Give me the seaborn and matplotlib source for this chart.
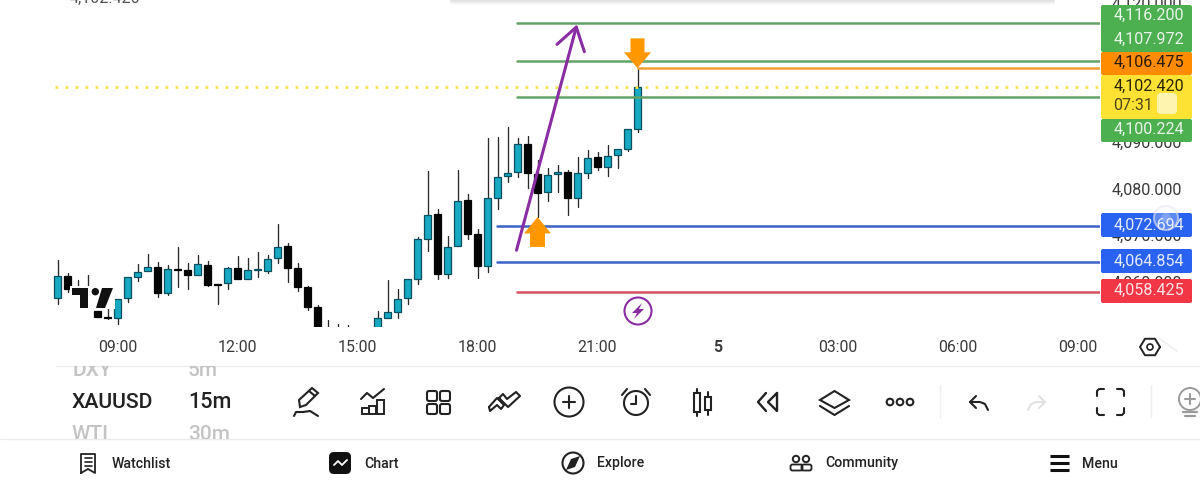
import numpy as np
import pandas as pd
import matplotlib
matplotlib.use("Agg")
import matplotlib.pyplot as plt
import seaborn as sns
from matplotlib.patches import Rectangle, Circle, FancyBboxPatch, Polygon, FancyArrow
from matplotlib.transforms import Bbox, TransformedBbox, ScaledTranslation

# 15 minute candles, slot 0 is the 09:00 bar
slots = list(range(-6, 53))
opens = [4057.07, 4061.93, 4059.22, 4058.85, 4054.34, 4052.99, 4052.78, 4057.07, 4061.58, 4062.87,
         4063.86, 4058.14, 4063.43, 4063.15, 4062.01, 4064.29, 4060.21, 4060.36, 4063.64, 4061.22,
         4063.09, 4062.87, 4065.73, 4068.30, 4063.51, 4059.43, 4055.27, 4050.00, 4049.50, 4049.50,
         4049.50, 4049.50, 4050.00, 4052.91, 4054.19, 4057.07, 4061.15, 4069.81, 4075.11, 4062.29,
         4068.37, 4078.12, 4070.95, 4064.07, 4078.68, 4083.34, 4084.13, 4090.21, 4083.83, 4079.84,
         4083.70, 4084.26, 4078.61, 4084.05, 4087.36, 4085.21, 4087.79, 4089.14, 4093.37]
highs = [4065.30, 4062.57, 4061.00, 4062.08, 4054.34, 4054.92, 4056.99, 4061.58, 4064.44, 4066.59,
         4064.93, 4064.16, 4068.02, 4064.59, 4066.37, 4065.15, 4060.21, 4063.73, 4066.16, 4065.66,
         4066.95, 4066.31, 4073.03, 4068.88, 4064.59, 4059.78, 4055.57, 4052.41, 4051.55, 4051.23,
         4050.40, 4050.40, 4054.41, 4061.00, 4059.00, 4061.15, 4070.30, 4084.48, 4076.19, 4070.45,
         4084.63, 4079.41, 4071.89, 4091.50, 4091.78, 4093.80, 4091.44, 4091.99, 4086.78, 4084.99,
         4085.70, 4084.63, 4087.36, 4088.92, 4088.56, 4089.93, 4089.07, 4093.37, 4106.475]
lows = [4055.85, 4058.49, 4056.28, 4055.20, 4052.99, 4052.56, 4051.49, 4056.21, 4060.85, 4062.87,
        4057.42, 4057.72, 4059.43, 4059.00, 4062.01, 4059.71, 4055.85, 4059.00, 4061.15, 4061.15,
        4061.71, 4062.44, 4064.72, 4060.64, 4058.64, 4054.56, 4050.00, 4049.00, 4049.00, 4049.00,
        4049.00, 4049.00, 4050.00, 4052.78, 4052.78, 4055.85, 4060.14, 4067.30, 4061.28, 4061.37,
        4068.37, 4069.74, 4061.37, 4062.66, 4076.25, 4082.11, 4083.19, 4080.83, 4074.60, 4077.90,
        4079.97, 4074.96, 4076.75, 4082.84, 4084.63, 4083.34, 4085.12, 4088.77, 4092.72]
closes = [4061.93, 4059.13, 4056.71, 4055.63, 4052.99, 4052.78, 4056.99, 4061.58, 4062.78, 4063.86,
          4058.14, 4063.43, 4063.09, 4062.01, 4064.37, 4059.93, 4059.99, 4063.64, 4061.22, 4063.09,
          4063.30, 4065.58, 4068.15, 4063.51, 4059.56, 4055.27, 4050.50, 4049.50, 4049.50, 4049.50,
          4049.50, 4049.50, 4052.84, 4054.06, 4056.92, 4061.15, 4069.74, 4074.96, 4062.29, 4068.15,
          4078.03, 4070.95, 4064.07, 4078.68, 4083.19, 4083.92, 4090.21, 4083.92, 4079.75, 4083.55,
          4084.13, 4078.61, 4083.98, 4087.27, 4085.21, 4087.63, 4089.07, 4093.37, 4102.42]

green_levels = [4116.200, 4107.972, 4100.224]
blue_levels = [4072.694, 4064.854]
red_level = 4058.425
orange_level = 4106.475
last_price = 4102.420

price_ticks = [4060, 4070, 4080, 4090, 4100, 4110, 4120]
time_ticks = [0, 12, 24, 36, 48, 60, 72, 84, 96]
time_labels = ["09:00", "12:00", "15:00", "18:00", "21:00", "5", "03:00", "06:00", "09:00"]

axis_labels = [("4,116.200", "#e8f5e9"), ("4,107.972", "#e8f5e9"), ("4,106.475", "#2b1a05"),
               ("4,100.224", "#e8f5e9"), ("4,072.694", "#e3eaff"), ("4,064.854", "#e3eaff"),
               ("4,058.425", "#fde3e5")]
label_rows = [15, 39, 62, 129, 225, 261, 290]

nav_items = [("Watchlist", 112), ("Chart", 364), ("Explore", 597), ("Community", 825), ("Menu", 1082)]

UP = "#17a8c2"
UP_EDGE = "#0c4f5e"
DOWN = "#050505"
PURPLE = "#8a2da3"
ORANGE = "#ff9800"
INK = "#222222"

sns.set_theme(style="white")
plt.rcParams["font.family"] = ["Roboto", "DejaVu Sans"]

df = pd.DataFrame({"slot": slots, "open": opens, "high": highs, "low": lows, "close": closes})
df["up"] = df["close"] >= df["open"]

fig = plt.figure(figsize=(12, 4.88), dpi=100, facecolor="white")
ax = fig.add_axes([0, 122 / 488, 1100 / 1200, 366 / 488], facecolor="white")

# wicks, one short line per candle
wicks = df.melt(id_vars="slot", value_vars=["low", "high"], value_name="price")
sns.lineplot(data=wicks, x="slot", y="price", units="slot", estimator=None, color="#2a2a2a",
             linewidth=0.95, legend=False, ax=ax, zorder=1.5)

# bodies
body_low = df[["open", "close"]].min(axis=1)
body_h = (df["close"] - df["open"]).abs().clip(lower=0.2)
ax.bar(df["slot"], body_h, bottom=body_low, width=0.7,
       color=[UP if u else DOWN for u in df["up"]],
       edgecolor=[UP_EDGE if u else DOWN for u in df["up"]], linewidth=0.9, zorder=2)

# the pane stops above the time scale, candles are cut there
ax.axhspan(4040, 4050.9, color="white", zorder=2.3, lw=0)

def level(price, start, color):
    line = pd.DataFrame({"slot": [start, 98.25], "price": [price, price]})
    sns.lineplot(data=line, x="slot", y="price", color=color, linewidth=1.8, ax=ax, zorder=3)

for p in green_levels:
    level(p, 39.9, "#62a266")
for p in blue_levels:
    level(p, 37.9, "#3c62c8")
level(red_level, 39.9, "#d5505c")
level(orange_level, 52, "#f0a035")
ax.plot([-6.3, 98.25], [last_price, last_price], color="#f6e44e", lw=2,
        linestyle=(0, (1, 2.6)), zorder=2.8)

# drawings on the chart
ax.annotate("", xy=(45.95, 4115.9), xytext=(39.9, 4067.4), zorder=4,
            arrowprops=dict(arrowstyle="->,head_length=1.3,head_width=0.85", color=PURPLE, lw=2.2,
                            shrinkA=0, shrinkB=0))
ax.add_patch(FancyArrow(42, 4068.1, 0, 6.4, width=1.5, head_width=2.7, head_length=3.5,
                        length_includes_head=True, color=ORANGE, lw=0, zorder=4))
ax.add_patch(FancyArrow(52, 4112.9, 0, -6.4, width=1.4, head_width=2.7, head_length=3.4,
                        length_includes_head=True, color=ORANGE, lw=0, zorder=4))

ax.set_xlim(-11.75, 98.25)
ax.set_ylim(4042.53, 4121.14)
ax.set_axisbelow(False)
ax.set_xticks(time_ticks, time_labels)
ax.set_yticks(price_ticks, [f"{p:,.3f}" for p in price_ticks])
ax.yaxis.tick_right()
ax.tick_params(axis="x", length=0, pad=-18.5, labelsize=11.4, labelcolor="#3a3a3a")
ax.tick_params(axis="y", length=0, pad=8.5, labelsize=11.6, labelcolor="#3a3a3a")
ax.set_xlabel("")
ax.set_ylabel("")
lift = ScaledTranslation(0, 2 / 72, fig.dpi_scale_trans)
for lab in ax.get_yticklabels():
    lab.set_transform(lab.get_transform() + lift)
for lab in ax.get_xticklabels():
    if lab.get_text() == "5":
        lab.set_fontweight("bold")
sns.despine(ax=ax, left=True, bottom=True, top=True, right=True)

# overlay in screen pixels for the app chrome
ui = fig.add_axes([0, 0, 1, 1], facecolor="none")
ui.set_xlim(0, 1200)
ui.set_ylim(488, 0)
ui.axis("off")

def stroke(xs, ys, color=INK, lw=1.5, **kw):
    ui.plot(xs, ys, color=color, lw=lw, solid_capstyle="round", solid_joinstyle="round", **kw)

def box(x0, y0, x1, y1, color, rad=2):
    ui.add_patch(FancyBboxPatch((x0 + rad, y0 + rad), x1 - x0 - 2 * rad, y1 - y0 - 2 * rad,
                                boxstyle=f"round,pad={rad},rounding_size={rad}", fc=color, ec="none", zorder=3))

# top popup edge and clipped price
for y, c in [(4.5, "#f6f6f6"), (3, "#ececec"), (1.5, "#e2e2e2")]:
    ui.add_patch(FancyBboxPatch((450, -10), 605, 10 + y, boxstyle="round,pad=0,rounding_size=2",
                                fc=c, ec="none", zorder=1))
ui.text(70, -2, "4,102.420", fontsize=11.6, color="#555555", va="center", ha="left")

# price scale labels
box(1101, 5, 1192, 52, "#4caf50")
box(1101, 52, 1192, 75, "#ff8c00")
box(1101, 75, 1192, 119, "#fde234")
box(1101, 119, 1192, 142, "#4caf50")
box(1101, 213, 1192, 237, "#2962f0")
box(1101, 249, 1192, 273, "#2962f0")
box(1101, 279, 1192, 303, "#f23645")
for (txt, col), y in zip(axis_labels, label_rows):
    ui.text(1184, y, txt, fontsize=11.6, color=col, va="center", ha="right", zorder=4)
ui.text(1184, 86, "4,102.420", fontsize=11.6, color="#2b2505", va="center", ha="right", zorder=4)
ui.text(1113, 105, "07:31", fontsize=11.6, color="#50461a", va="center", ha="left", zorder=4)
ui.add_patch(FancyBboxPatch((1159, 95), 16, 17, boxstyle="round,pad=2,rounding_size=4",
                            fc="#fff3b0", ec="none", zorder=4))
ui.add_patch(Circle((1166, 218), 12, fc=(1, 1, 1, 0.25), ec=(0.9, 0.9, 0.95, 0.6), lw=1.5, zorder=5))
ui.add_patch(Circle((1166, 218), 5, fc=(1, 1, 1, 0.2), ec="none", zorder=5))

# alert badge
ui.add_patch(Circle((638, 311), 13.5, fc="white", ec=PURPLE, lw=1.5, zorder=4))
ui.add_patch(Polygon([[642, 303], [632, 313], [637, 313], [634, 319], [644, 309], [639, 309]],
                     fc=PURPLE, ec="none", zorder=5))

# logo sits on a white patch, the candles behind it do not show
ui.add_patch(Rectangle((70, 286), 45, 23, fc="white", ec="none", zorder=2))
ui.add_patch(Polygon([[72, 288], [88, 288], [88, 308], [80, 308], [80, 295], [72, 295]], fc="#111111", ec="none", zorder=3))
ui.add_patch(Circle((95.3, 291.7), 3.7, fc="#111111", ec="none", zorder=3))
ui.add_patch(Polygon([[102, 288], [113, 288], [105, 308], [96, 308]], fc="#111111", ec="none", zorder=3))

# settings hexagon
ang = np.deg2rad([0, 60, 120, 180, 240, 300, 360])
stroke(1150 + 10 * np.cos(ang), 347 + 9.5 * np.sin(ang), lw=1.4)
ui.add_patch(Circle((1150, 347), 3, fc="none", ec=INK, lw=1.2))
stroke([1160, 1177], [339, 351], color="#f0f0f0", lw=1.2)

# separators
stroke([56, 1200], [366, 366], color="#ececec", lw=1)
stroke([0, 1200], [439, 439], color="#ececec", lw=1)
stroke([940, 940], [385, 417], color="#eeeeee", lw=1)
stroke([1150.5, 1150.5], [385, 417], color="#eeeeee", lw=1)

# symbol picker, rows are cut off by the bar edges
picker = [(72, 370, "DXY", "#c4c4c4", 15), (188, 370, "5m", "#c4c4c4", 15),
          (72, 402, "XAUUSD", "#222222", 15.2), (188, 402, "15m", "#222222", 15.6),
          (72, 435, "WTI", "#c4c4c4", 15), (188, 435, "30m", "#c4c4c4", 15)]
clip = TransformedBbox(Bbox([[0, 366], [1200, 439]]), ui.transData)
for x, y, txt, col, fs in picker:
    t = ui.text(x, y, txt, fontsize=fs, color=col, va="center", ha="left", fontweight="medium", clip_on=True)
    t.set_clip_box(clip)

# toolbar icons
ui.add_patch(Polygon([[300, 407], [299, 400], [312, 388], [318, 393], [306, 405]], fc="none", ec=INK, lw=1.5))
stroke([309, 315], [391, 396])
stroke(np.array([294, 296, 303, 310, 318]), np.array([416, 412, 412, 411, 416]))
stroke([361, 367, 373, 384], [399, 393, 398, 389])
for x, y0 in [(362, 408), (369, 406), (377, 400)]:
    ui.add_patch(Rectangle((x, y0), 7, 414 - y0, fc="none", ec=INK, lw=1.4))
for x in (427, 440):
    for y in (391, 404):
        ui.add_patch(FancyBboxPatch((x + 2, y + 2), 6, 6, boxstyle="round,pad=2,rounding_size=2", fc="none", ec=INK, lw=1.5))
stroke([489, 497, 504, 501, 497, 490, 489], [407, 398, 405, 409, 405, 411, 407])
stroke([499, 503, 507, 516, 520, 508, 499], [398, 394, 399, 392, 396, 407, 398])
ui.add_patch(Circle((569, 402), 14.5, fc="none", ec=INK, lw=1.5))
stroke([563, 575], [402, 402])
stroke([569, 569], [396, 408])
ui.add_patch(Circle((636, 403), 12, fc="none", ec=INK, lw=1.5))
stroke([636, 636, 631], [396, 404, 404])
stroke([622, 627], [395, 389])
stroke([650, 645], [395, 389])
for x, y0, y1, w0, w1 in [(697, 393, 412, 389, 416), (708.4, 397, 410, 392, 415)]:
    ui.add_patch(Rectangle((x - 3, y0), 6, y1 - y0, fc="none", ec=INK, lw=1.5))
    stroke([x, x], [w0, y0])
    stroke([x, x], [y1, w1])
stroke([766, 758, 766], [393, 402, 411], lw=1.7)
stroke([777, 768, 777, 777], [393, 402, 411, 393], lw=1.7)
ui.add_patch(Polygon([[820, 400], [834.5, 391], [849, 400], [834.5, 408]], fc="none", ec=INK, lw=1.5))
stroke([820, 834.5, 849], [406, 415, 406])
for x in (890, 900, 910):
    ui.add_patch(Circle((x, 402), 3.3, fc="none", ec=INK, lw=1.5))
stroke([976, 970, 976], [396, 402, 408])
stroke([970, 980, 985, 988], [402, 402, 404, 410])
stroke([1039, 1045, 1039], [396, 402, 408], color="#e2e2e2")
stroke([1045, 1036, 1031, 1028], [402, 402, 404, 410], color="#e2e2e2")
for sx, sy, cx, cy in [(1, 1, 1097, 389), (-1, 1, 1124, 389), (1, -1, 1097, 415), (-1, -1, 1124, 415)]:
    stroke([cx, cx, cx + 2 * sx, cx + 7 * sx], [cy + 7 * sy, cy + 2 * sy, cy, cy])
ui.add_patch(Circle((1190, 399), 11, fc="none", ec="#9a9a9a", lw=1.4))
stroke([1190, 1190], [394, 404], color="#9a9a9a")
stroke([1185, 1195], [399, 399], color="#9a9a9a")
stroke([1183, 1197], [412, 412], color="#9a9a9a", lw=1.6)
stroke([1185, 1195], [416, 416], color="#9a9a9a", lw=1.6)

# bottom navigation
for txt, x in nav_items:
    ui.text(x, 463.5, txt, fontsize=10.2, color="#222222", va="center", ha="left", fontweight="medium")
stroke([81, 81, 95, 95, 88, 81], [473, 454, 454, 473, 469, 473], lw=1.3)
for y in (458, 462, 466):
    stroke([84.5, 91.5], [y, y], lw=1.2)
ui.add_patch(FancyBboxPatch((333, 456), 14, 14, boxstyle="round,pad=4,rounding_size=5", fc="#111111", ec="none"))
stroke([334, 338, 342, 347], [465, 461, 465, 460], color="white", lw=1.3)
ui.add_patch(Circle((573, 463), 10.5, fc="none", ec=INK, lw=1.5))
ui.add_patch(Polygon([[580, 456], [575, 467], [566, 470], [571, 459]], fc=INK, ec="none"))
ui.add_patch(Circle((796, 459), 3.2, fc="none", ec=INK, lw=1.4))
ui.add_patch(Circle((806, 459), 3.2, fc="none", ec=INK, lw=1.4))
ui.add_patch(FancyBboxPatch((792, 466), 9, 3, boxstyle="round,pad=1.5,rounding_size=2", fc="none", ec=INK, lw=1.3))
ui.add_patch(FancyBboxPatch((803, 466), 7, 3, boxstyle="round,pad=1.5,rounding_size=2", fc="none", ec=INK, lw=1.3))
for y in (456, 463, 470):
    ui.plot([1050, 1069], [y, y], color="#111111", lw=2.2, solid_capstyle="butt")

fig.savefig("out.png", dpi=100)
